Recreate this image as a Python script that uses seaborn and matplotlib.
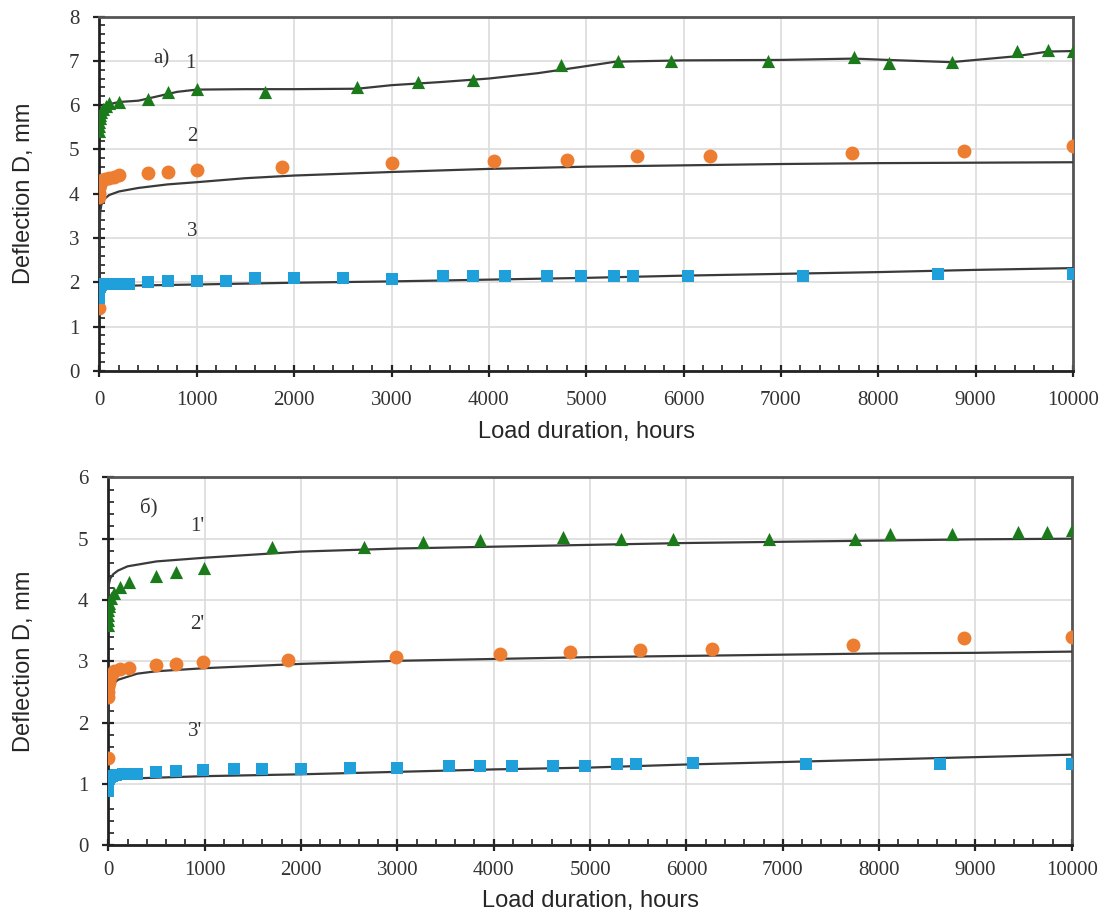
import numpy as np
import pandas as pd
import matplotlib
matplotlib.use("Agg")
import matplotlib.pyplot as plt
from matplotlib.ticker import MultipleLocator
import seaborn as sns

sns.set_theme(style="whitegrid")
plt.rcParams["font.family"] = ["Liberation Sans", "DejaVu Sans"]

# panel a) - measured points
t1 = [0, 0, 0, 5, 10, 20, 40, 70, 100, 200, 500, 700, 1000, 1700, 2650, 3270, 3840,
      4740, 5330, 5870, 6870, 7750, 8110, 8760, 9430, 9740, 10000]
d1 = [5.42, 5.52, 5.62, 5.7, 5.78, 5.85, 5.92, 5.98, 6.04, 6.08, 6.13, 6.3, 6.36, 6.3,
      6.4, 6.52, 6.57, 6.9, 6.99, 6.99, 6.99, 7.08, 6.95, 6.97, 7.22, 7.24, 7.22]
t2 = [0, 0, 0, 0, 5, 10, 30, 60, 100, 150, 200, 500, 700, 1000, 1880, 3000, 4050,
      4800, 5520, 6270, 7730, 8880, 10000]
d2 = [1.41, 3.92, 4.02, 4.12, 4.2, 4.26, 4.3, 4.33, 4.36, 4.38, 4.42, 4.46, 4.49, 4.53,
      4.61, 4.69, 4.73, 4.76, 4.84, 4.85, 4.91, 4.96, 5.08]
t3 = [0, 0, 0, 10, 20, 50, 100, 150, 200, 250, 300, 500, 700, 1000, 1300, 1600, 2000,
      2500, 3000, 3530, 3840, 4170, 4600, 4950, 5290, 5480, 6050, 7230, 8610, 10000]
d3 = [1.65, 1.75, 1.85, 1.9, 1.93, 1.95, 1.97, 1.97, 1.96, 1.96, 1.95, 2.0, 2.02, 2.03,
      2.02, 2.09, 2.09, 2.09, 2.07, 2.15, 2.15, 2.15, 2.15, 2.15, 2.15, 2.15, 2.15, 2.15,
      2.19, 2.19]

# panel a) - curves
c1t = [0, 10, 30, 60, 100, 200, 400, 600, 800, 1000, 1500, 2000, 2650, 3000, 3500, 4000,
       4500, 4750, 5000, 5300, 6000, 7000, 7750, 8100, 8750, 9400, 9750, 10000]
c1d = [5.55, 5.8, 5.92, 5.98, 6.02, 6.07, 6.1, 6.2, 6.3, 6.35, 6.36, 6.36, 6.37, 6.45,
       6.52, 6.6, 6.72, 6.8, 6.88, 6.98, 7.01, 7.02, 7.05, 7.02, 6.97, 7.1, 7.21, 7.22]
c2t = [0, 3, 8, 20, 50, 100, 200, 400, 700, 1000, 1500, 2000, 3000, 4000, 5000, 6000,
       7000, 8000, 9000, 10000]
c2d = [1.85, 3.3, 3.6, 3.75, 3.88, 3.97, 4.05, 4.13, 4.21, 4.26, 4.35, 4.41, 4.49, 4.56,
       4.61, 4.64, 4.67, 4.69, 4.70, 4.71]
c3t = [0, 30, 200, 1000, 2000, 3000, 4000, 5000, 6000, 7000, 8000, 9000, 10000]
c3d = [1.88, 1.9, 1.92, 1.95, 1.99, 2.02, 2.06, 2.1, 2.15, 2.19, 2.23, 2.28, 2.32]

# panel б) - measured points
b1t = [0, 0, 0, 0, 5, 10, 25, 60, 120, 210, 500, 700, 990, 1700, 2650, 3270, 3860,
       4720, 5320, 5860, 6860, 7750, 8110, 8760, 9440, 9740, 10000]
b1d = [3.6, 3.68, 3.76, 3.84, 3.9, 3.95, 4.04, 4.12, 4.21, 4.29, 4.4, 4.45, 4.52, 4.86,
       4.87, 4.95, 4.98, 5.03, 5.0, 4.99, 4.99, 4.99, 5.07, 5.07, 5.11, 5.11, 5.14]
b2t = [0, 0, 0, 0, 5, 10, 20, 40, 63, 120, 210, 500, 705, 985, 1870, 2990, 4070, 4790,
       5520, 6270, 7730, 8880, 10000]
b2d = [1.42, 2.42, 2.5, 2.58, 2.65, 2.7, 2.75, 2.8, 2.84, 2.88, 2.9, 2.94, 2.96, 2.99,
       3.02, 3.08, 3.12, 3.15, 3.19, 3.21, 3.27, 3.38, 3.39]
b3t = [0, 0, 0, 5, 15, 40, 80, 150, 220, 300, 490, 705, 985, 1300, 1600, 2000, 2510,
       3000, 3540, 3860, 4190, 4620, 4950, 5280, 5480, 6070, 7240, 8630, 10000]
b3d = [0.88, 0.95, 1.02, 1.08, 1.12, 1.14, 1.15, 1.16, 1.17, 1.17, 1.2, 1.21, 1.23, 1.24,
       1.25, 1.25, 1.26, 1.26, 1.3, 1.3, 1.3, 1.3, 1.3, 1.33, 1.33, 1.35, 1.33, 1.33, 1.33]

# panel б) - curves
bc1t = [0, 5, 20, 50, 100, 200, 500, 1000, 2000, 3000, 4000, 5000, 6000, 7000, 8000,
        9000, 10000]
bc1d = [4.0, 4.25, 4.35, 4.42, 4.48, 4.55, 4.63, 4.69, 4.79, 4.84, 4.87, 4.9, 4.93,
        4.95, 4.97, 4.99, 5.0]
bc2t = [0, 3, 10, 20, 50, 100, 300, 500, 1000, 2000, 3000, 4000, 5000, 6000, 7000, 8000,
        9000, 10000]
bc2d = [2.0, 2.35, 2.48, 2.55, 2.63, 2.7, 2.8, 2.84, 2.89, 2.96, 3.01, 3.04, 3.07, 3.09,
        3.11, 3.13, 3.14, 3.16]
bc3t = [0, 1000, 2000, 3000, 4000, 5000, 6000, 7000, 8000, 9000, 10000]
bc3d = [1.08, 1.13, 1.16, 1.2, 1.24, 1.27, 1.32, 1.36, 1.4, 1.44, 1.48]

green = "#1b7b1b"
orange = "#ed7d31"
blue = "#1fa0db"
serif = ["Liberation Serif", "DejaVu Serif"]

fig = plt.figure(figsize=(11.05, 9.18), dpi=100)
ax1 = fig.add_axes([0.090, 0.596, 0.881, 0.386])
ax2 = fig.add_axes([0.098, 0.079, 0.872, 0.401])


def draw_panel(ax, pts, curves, ymax, labels, xpad, xlpad, ylpad):
    # black fitted curves first, markers on top
    for ct, cd in curves:
        sns.lineplot(x=ct, y=cd, ax=ax, color="#3a3a3a", lw=1.6, sort=False,
                     estimator=None, zorder=3)
    for (t, d), mk, col, sz in zip(pts, ["^", "o", "s"], [green, orange, blue],
                                   [90, 100, 80]):
        sns.scatterplot(x=t, y=d, ax=ax, marker=mk, color=col, s=sz,
                        edgecolor=col, linewidth=0, zorder=4)
    for txt, x, y in labels:
        ax.text(x, y, txt, family=serif, fontsize=15, color="#333333",
                ha="center", va="center")
    ax.set_xlim(0, 10000)
    ax.set_ylim(0, ymax)
    ax.xaxis.set_major_locator(MultipleLocator(1000))
    ax.xaxis.set_minor_locator(MultipleLocator(200))
    ax.yaxis.set_major_locator(MultipleLocator(1))
    ax.yaxis.set_minor_locator(MultipleLocator(0.2))
    ax.grid(True, which="major", color="#dcdcdc", lw=1.2)
    ax.grid(False, which="minor")
    ax.tick_params(which="major", direction="inout", length=9, width=1.6,
                   color="#222222", labelsize=15, bottom=True, left=True)
    ax.tick_params(axis="x", which="major", pad=xpad)
    ax.tick_params(axis="y", which="major", pad=10)
    ax.tick_params(which="minor", direction="in", length=4, width=1.2,
                   color="#222222", bottom=True, left=True)
    for lab in ax.get_xticklabels() + ax.get_yticklabels():
        lab.set_family(serif)
        lab.set_color("#333333")
    for side in ["left", "bottom"]:
        ax.spines[side].set_color("#222222")
        ax.spines[side].set_linewidth(2)
    for side in ["top", "right"]:
        ax.spines[side].set_color("#555555")
        ax.spines[side].set_linewidth(2)
    ax.set_xlabel("Load duration, hours", fontsize=17, labelpad=xlpad)
    ax.set_ylabel("Deflection D, mm", fontsize=17, labelpad=ylpad)


draw_panel(ax1, [(t1, d1), (t2, d2), (t3, d3)],
           [(c1t, c1d), (c2t, c2d), (c3t, c3d)], 8,
           [("a)", 640, 7.05), ("1", 930, 6.95), ("2", 950, 5.3), ("3", 950, 3.15)],
           10, 8, 24)
draw_panel(ax2, [(b1t, b1d), (b2t, b2d), (b3t, b3d)],
           [(bc1t, bc1d), (bc2t, bc2d), (bc3t, bc3d)], 6,
           [("б)", 420, 5.5), ("1'", 920, 5.2), ("2'", 920, 3.6), ("3'", 900, 1.85)],
           7, 7, 31)

fig.savefig("out.png", dpi=100)
